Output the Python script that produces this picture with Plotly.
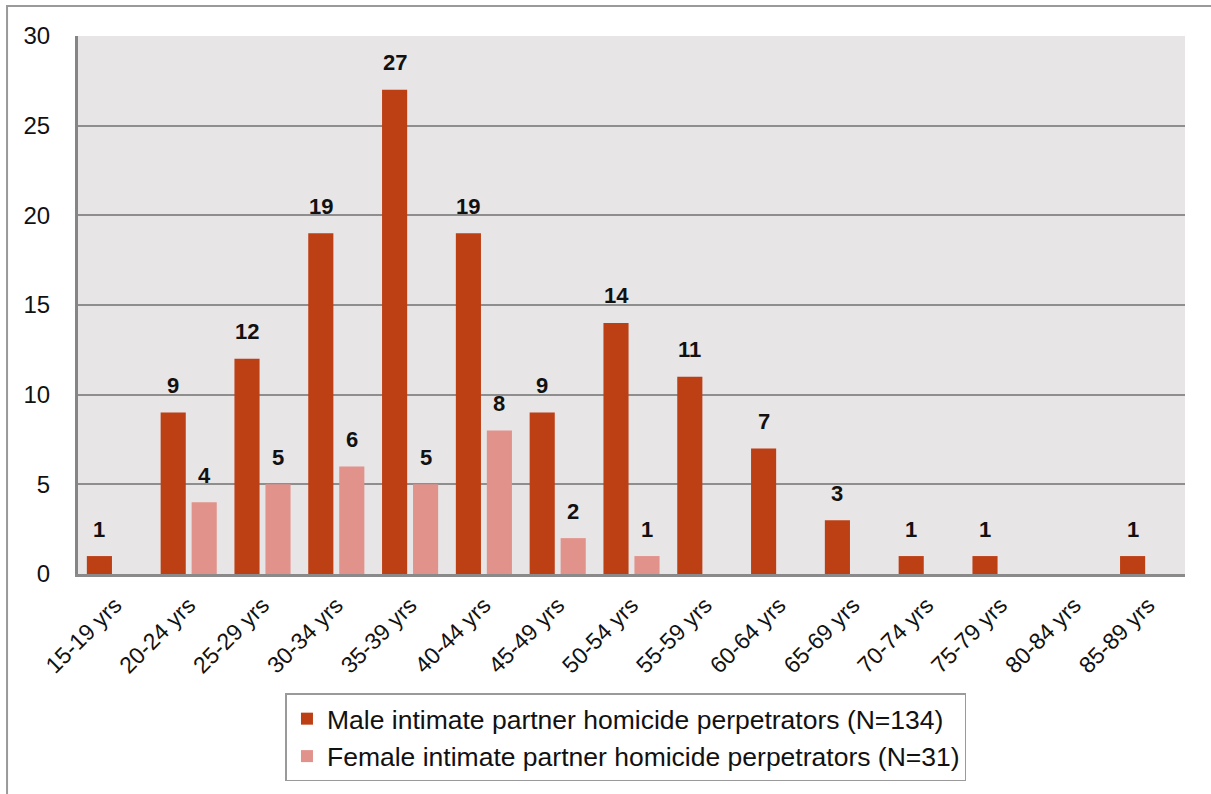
import plotly.graph_objects as go

categories = ["15-19 yrs", "20-24 yrs", "25-29 yrs", "30-34 yrs", "35-39 yrs", "40-44 yrs",
              "45-49 yrs", "50-54 yrs", "55-59 yrs", "60-64 yrs", "65-69 yrs", "70-74 yrs",
              "75-79 yrs", "80-84 yrs", "85-89 yrs"]
male = [1, 9, 12, 19, 27, 19, 9, 14, 11, 7, 3, 1, 1, 0, 1]
female = [0, 4, 5, 6, 5, 8, 2, 1, 0, 0, 0, 0, 0, 0, 0]
male_name = "Male intimate partner homicide perpetrators (N=134)"
female_name = "Female intimate partner homicide perpetrators (N=31)"

MALE_C = "#BD3F14"
FEMALE_C = "#E1928A"
FONT = "Liberation Sans, Arial, sans-serif"

fig = go.Figure()
fig.add_trace(go.Bar(x=categories, y=male, name=male_name, marker_color=MALE_C,
                     marker_line_width=0))
fig.add_trace(go.Bar(x=categories, y=female, name=female_name, marker_color=FEMALE_C,
                     marker_line_width=0))

ann = []
for c, v in zip(categories, male):
    if v > 0:
        ann.append(dict(x=c, y=v, text=f"<b>{v}</b>", showarrow=False, xshift=-15.5,
                        yshift=27, font=dict(size=22, color="#111", family=FONT)))
for c, v in zip(categories, female):
    if v > 0:
        ann.append(dict(x=c, y=v, text=f"<b>{v}</b>", showarrow=False, xshift=15.5,
                        yshift=27, font=dict(size=22, color="#111", family=FONT)))

fig.update_layout(
    width=1211, height=794,
    margin=dict(l=78, r=26, t=36, b=220),
    paper_bgcolor="white",
    plot_bgcolor="#E7E5E6",
    barmode="group",
    bargap=0.16,
    bargroupgap=0.19,
    font=dict(family=FONT, color="#111"),
    annotations=ann,
    showlegend=True,
    legend=dict(x=0.495, y=-0.222, xanchor="center", yanchor="top",
                orientation="v", bgcolor="white", bordercolor="#9a9a9a", borderwidth=1.5,
                font=dict(size=26.5, family=FONT, color="#111"),
                itemsizing="constant", tracegroupgap=4),
    shapes=[dict(type="rect", xref="paper", yref="paper", x0=-0.0641, x1=1.1,
                 y0=-0.45, y1=1.0558, line=dict(color="#9a9a9a", width=2),
                 fillcolor="rgba(0,0,0,0)", layer="below")],
)
fig.update_xaxes(showgrid=False, tickangle=-45, tickfont=dict(size=23, family=FONT, color="#111"),
                 showline=True, linecolor="#8a8a8a", linewidth=2.5, ticks="",
                 ticklabelstandoff=6)
fig.update_yaxes(range=[0, 30], dtick=5, showgrid=True, gridcolor="#8e8e8e", gridwidth=2,
                 showline=True, linecolor="#858585", linewidth=3, zeroline=False,
                 tickfont=dict(size=24, family=FONT, color="#111"), ticks="",
                 ticklabelstandoff=20)

fig.write_html("out.html", config={"displayModeBar": False},
               post_script="document.body.style.margin='0px';")
